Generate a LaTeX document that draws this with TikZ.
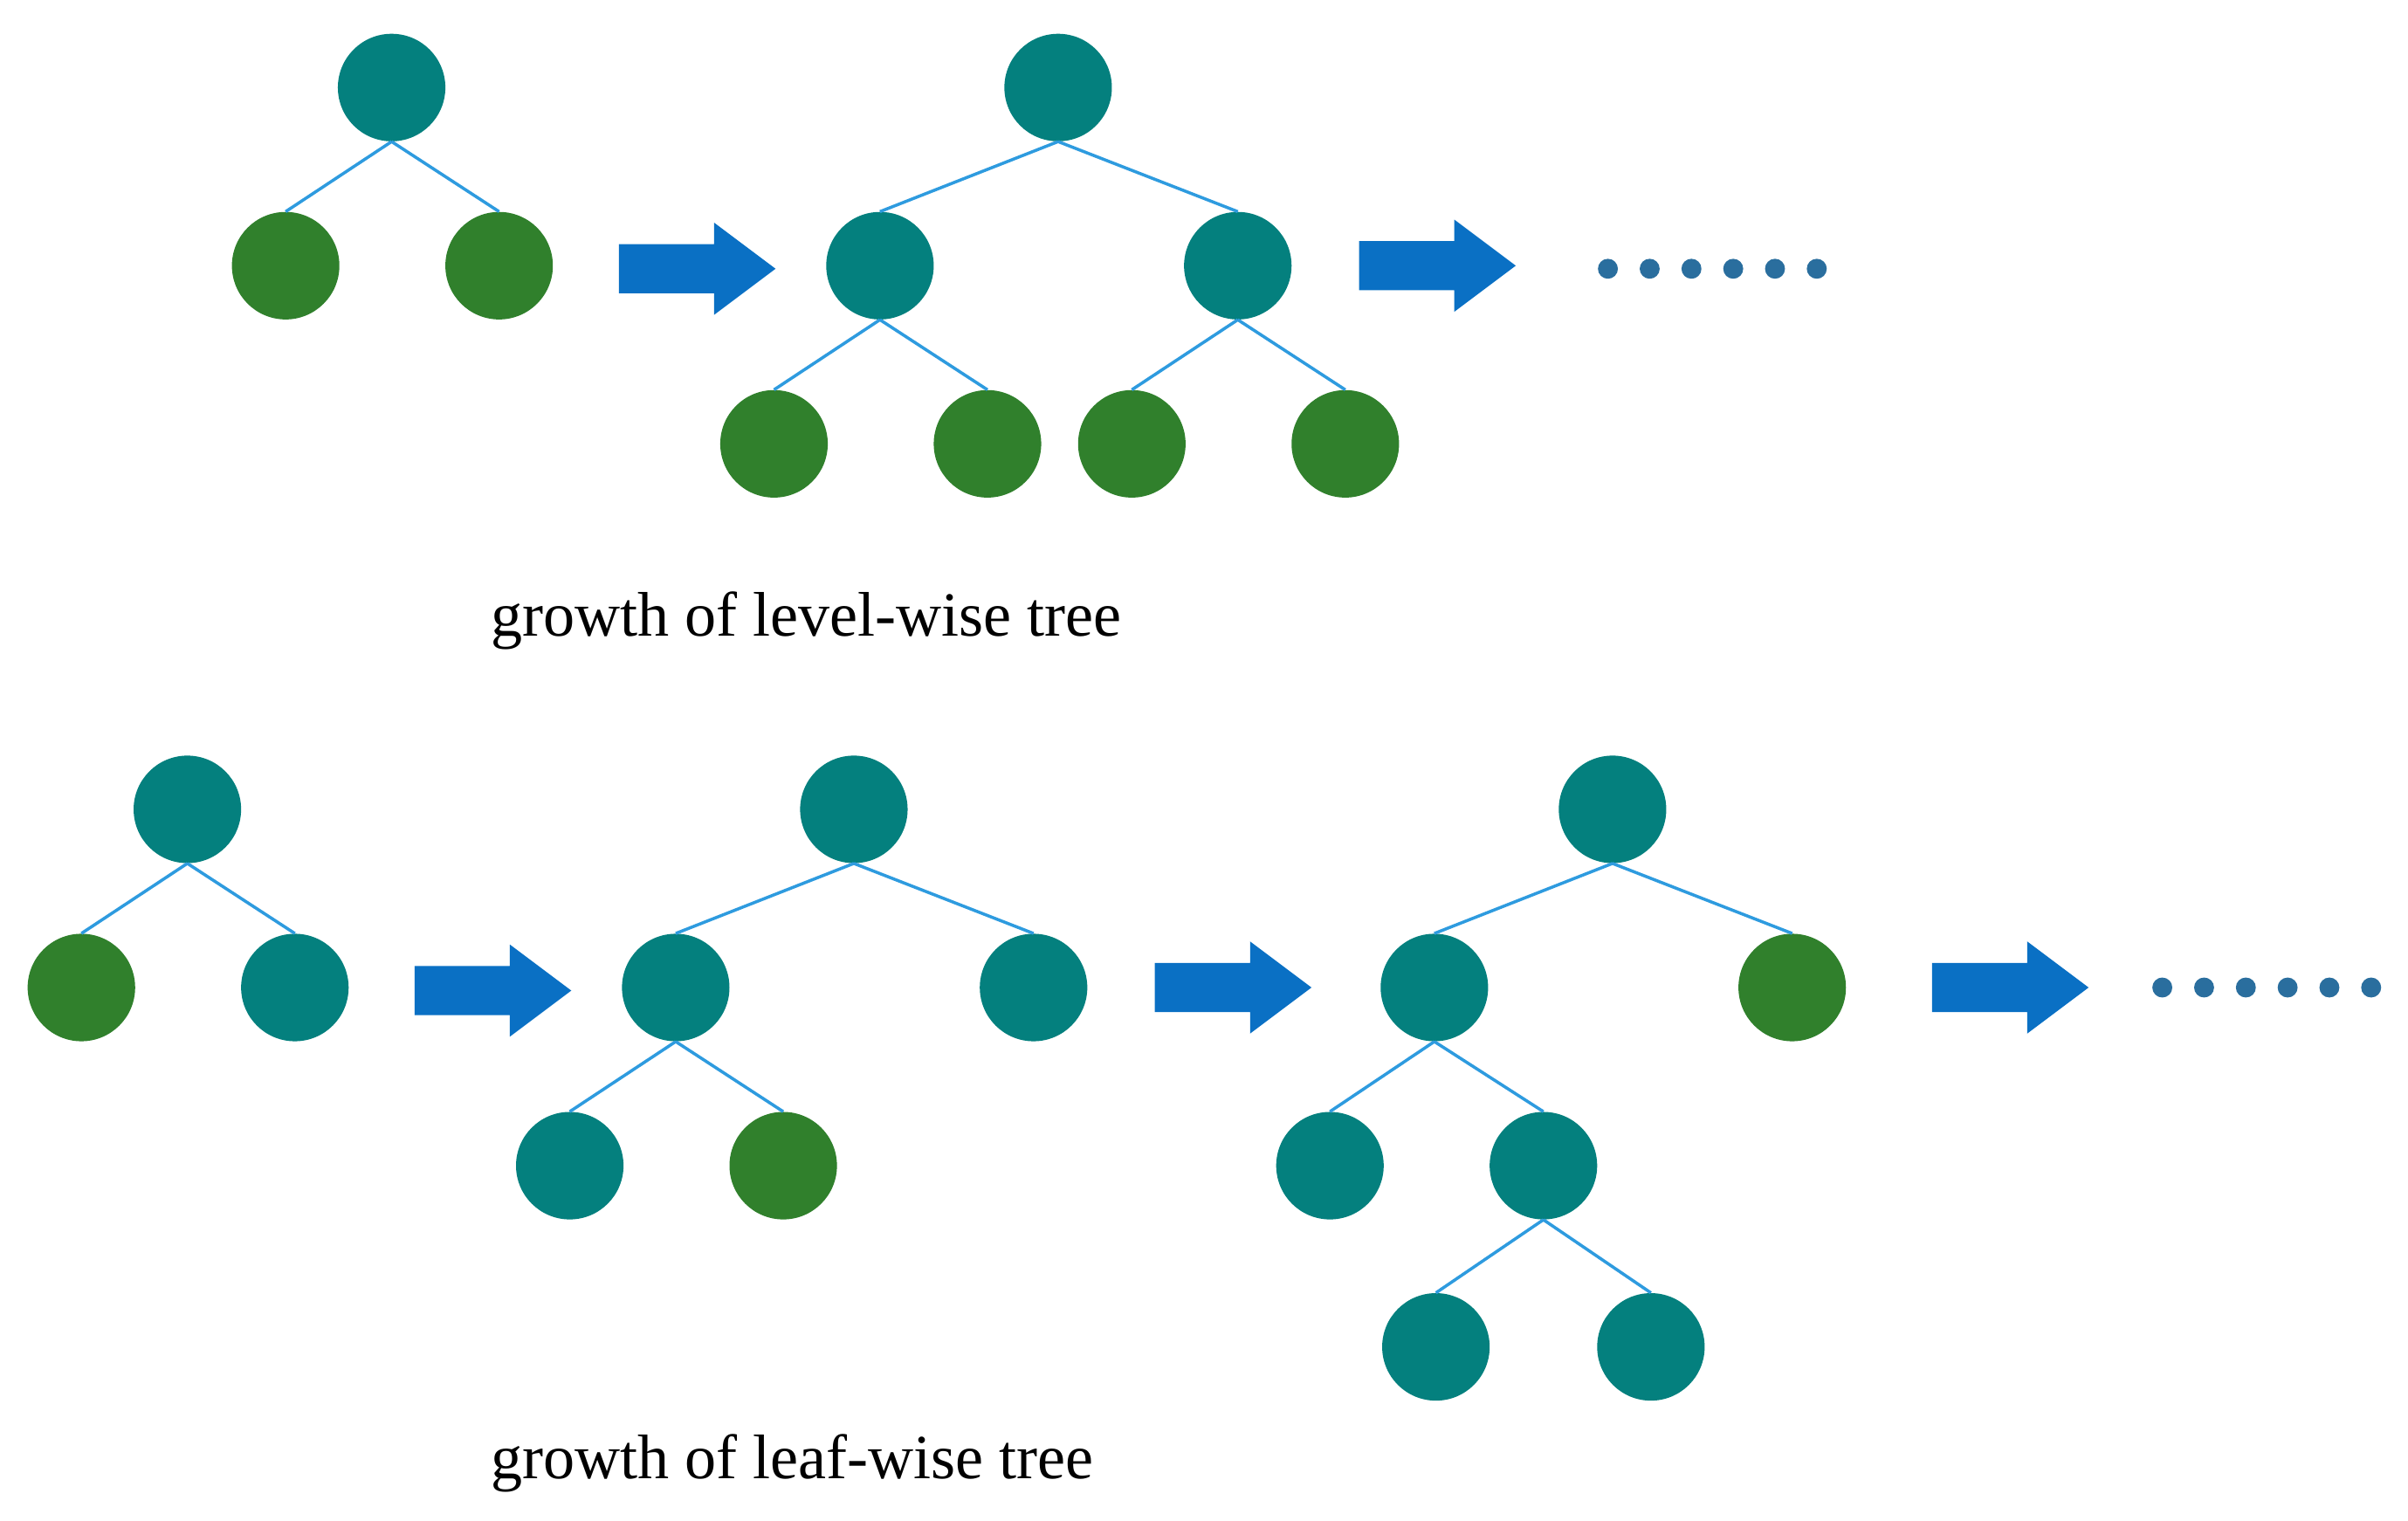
\documentclass[tikz,border=0pt]{standalone}
\usepackage{fontspec}
\setmainfont{Liberation Serif}
\definecolor{tealc}{HTML}{04807E}
\definecolor{greenc}{HTML}{30802C}
\definecolor{linec}{HTML}{2E9BDF}
\definecolor{arrc}{HTML}{0A70C4}
\definecolor{dotc}{HTML}{2A6E9E}
\begin{document}
\begin{tikzpicture}[x=1pt,y=-1pt,
  nd/.style={circle,minimum size=70pt,inner sep=0pt,draw=none},
  tn/.style={nd,fill=tealc},
  gn/.style={nd,fill=greenc},
  ed/.style={draw=linec,line width=2pt},
  dt/.style={circle,fill=dotc,minimum size=13pt,inner sep=0pt},
  lbl/.style={font=\fontsize{41}{45}\selectfont,anchor=base west}]
\useasboundingbox (0,0) rectangle (1568,990);
\newcommand{\blockarrow}[2]{\fill[arrc] (#1,#2-16) -- (#1+62,#2-16) -- (#1+62,#2-30) -- (#1+102,#2) -- (#1+62,#2+30) -- (#1+62,#2+16) -- (#1,#2+16) -- cycle;}
% top
\node[tn] (a) at (255,57) {};
\node[gn] (a1) at (186,173) {};
\node[gn] (a2) at (325,173) {};
\draw[ed] (a.south) -- (a1.north) (a.south) -- (a2.north);
\blockarrow{403}{175}
\node[tn] (b) at (689,57) {};
\node[tn] (b1) at (573,173) {};
\node[tn] (b2) at (806,173) {};
\node[gn] (b11) at (504,289) {};
\node[gn] (b12) at (643,289) {};
\node[gn] (b21) at (737,289) {};
\node[gn] (b22) at (876,289) {};
\draw[ed] (b.south) -- (b1.north) (b.south) -- (b2.north)
  (b1.south) -- (b11.north) (b1.south) -- (b12.north)
  (b2.south) -- (b21.north) (b2.south) -- (b22.north);
\blockarrow{885}{173}
\foreach \i in {0,...,5} \node[dt] (d\i) at (1047+27.2*\i,175) {};
\node[lbl] (t1) at (316,414) {growth of level-wise tree};
% bottom
\node[tn] (c) at (122,527) {};
\node[gn] (c1) at (53,643) {};
\node[tn] (c2) at (192,643) {};
\draw[ed] (c.south) -- (c1.north) (c.south) -- (c2.north);
\blockarrow{270}{645}
\node[tn] (e) at (556,527) {};
\node[tn] (e1) at (440,643) {};
\node[tn] (e2) at (673,643) {};
\node[tn] (e11) at (371,759) {};
\node[gn] (e12) at (510,759) {};
\draw[ed] (e.south) -- (e1.north) (e.south) -- (e2.north)
  (e1.south) -- (e11.north) (e1.south) -- (e12.north);
\blockarrow{752}{643}
\node[tn] (f) at (1050,527) {};
\node[tn] (f1) at (934,643) {};
\node[gn] (f2) at (1167,643) {};
\node[tn] (f11) at (866,759) {};
\node[tn] (f12) at (1005,759) {};
\node[tn] (f121) at (935,877) {};
\node[tn] (f122) at (1075,877) {};
\draw[ed] (f.south) -- (f1.north) (f.south) -- (f2.north)
  (f1.south) -- (f11.north) (f1.south) -- (f12.north)
  (f12.south) -- (f121.north) (f12.south) -- (f122.north);
\blockarrow{1258}{643}
\foreach \i in {0,...,5} \node[dt] (g\i) at (1408+27.2*\i,643) {};
\node[lbl] (t2) at (316,963) {growth of leaf-wise tree};
\end{tikzpicture}
\end{document}
